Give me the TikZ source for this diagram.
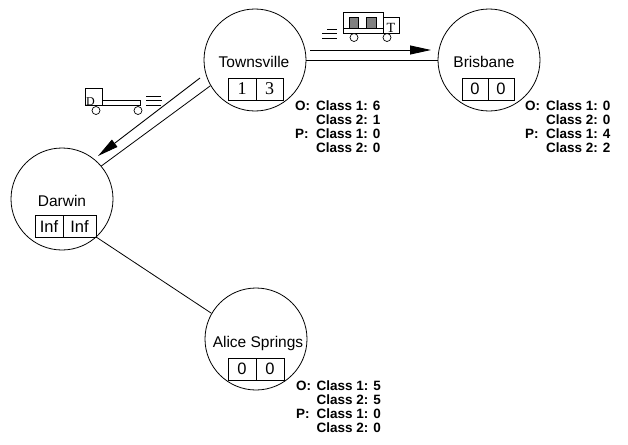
\documentclass[tikz,border=0pt]{standalone}
\usepackage{fontspec}
\setmainfont{Liberation Serif}
\setsansfont{Liberation Sans}
\usetikzlibrary{arrows.meta,calc}

\tikzset{
  city/.style={circle, draw, line width=0.8pt, minimum size=102pt, inner sep=0pt},
  cityname/.style={anchor=base, inner sep=0pt, font=\sffamily\fontsize{15.5}{15.5}\selectfont},
  cell/.style={draw, line width=0.8pt, minimum height=22pt, inner sep=0pt,
               font=\sffamily\fontsize{16.5}{16.5}\selectfont},
  serifcell/.style={cell, font=\rmfamily\fontsize{18}{18}\selectfont},
  stat/.style={anchor=base west, inner sep=0pt, font=\sffamily\bfseries\fontsize{13.5}{14}\selectfont},
  link/.style={line width=0.8pt},
  flow/.style={line width=0.9pt, -{Triangle[length=21pt,width=9pt]}},
  truckline/.style={line width=0.7pt},
  cargo/.style={truckline, fill=gray},
  plate/.style={inner sep=0pt, font=\rmfamily\fontsize{13}{13}\selectfont},
}

\begin{document}
\begin{tikzpicture}[x=1pt,y=-1pt]
  \useasboundingbox (0,0) rectangle (628,444);

  % cities
  \node[city] (T) at (255,60) {};
  \node[city] (B) at (489,60) {};
  \node[city] (D) at (62,199) {};
  \node[city] (A) at (256,339) {};

  \node[cityname] (Tn) at (254,67) {Townsville};
  \node[cityname] (Bn) at (484,67) {Brisbane};
  \node[cityname] (Dn) at (62,206) {Darwin};
  \node[cityname] (An) at (258,347) {Alice Springs};

  % two-slot counters below each name
  \node[serifcell, minimum width=28pt] (Tc1) at (242,89) {1};
  \node[serifcell, minimum width=27pt] (Tc2) at (269.5,89) {3};
  \node[cell, minimum width=26pt] (Bc1) at (475,89) {0};
  \node[cell, minimum width=26pt] (Bc2) at (501,89) {0};
  \node[cell, minimum width=28pt] (Dc1) at (49,226.5) {Inf};
  \node[cell, minimum width=33pt] (Dc2) at (79.5,226.5) {Inf};
  \node[cell, minimum width=28pt] (Ac1) at (242,369) {0};
  \node[cell, minimum width=28pt] (Ac2) at (270,369) {0};

  % roads
  \draw[link] (T.0) -- (B.180);
  \draw[link] (T.210) -- (D.40);
  \draw[link] (D.-48) -- (A.150);

  % shipments in transit
  \coordinate (tbS) at (310,50);
  \coordinate (tbE) at (431,50);
  \coordinate (tdS) at (200,78);
  \coordinate (tdE) at (98,156);
  \draw[flow] (tbS) -- (tbE);
  \draw[flow] (tdS) -- (tdE);

  % truck heading east, loaded
  \draw[truckline] (343,12) rectangle (383,33);
  \draw[truckline] (343,28) -- (383,28);
  \draw[cargo] (349,17) rectangle (358,28);
  \draw[cargo] (366,17) rectangle (376,28);
  \draw[truckline] (383,17) rectangle (399,33);
  \node[plate, anchor=base, font=\rmfamily\fontsize{14}{14}\selectfont] (truckT) at (391,33) {T};
  \draw[truckline, fill=white] (354,37.5) circle[radius=4pt];
  \draw[truckline, fill=white] (387,37.5) circle[radius=4pt];
  \draw[truckline] (327,29) -- (337,29);
  \draw[truckline] (322,33.5) -- (337,33.5);
  \draw[truckline] (322,38) -- (337,38);

  % truck heading west, empty
  \draw[truckline] (85,88) rectangle (102,105);
  \draw[truckline] (102,100) rectangle (140,105);
  \node[plate, anchor=base west, font=\rmfamily\fontsize{12}{12}\selectfont] (truckD) at (86,105) {D};
  \draw[truckline, fill=white] (96,110.5) circle[radius=4pt];
  \draw[truckline, fill=white] (138,110.5) circle[radius=4pt];
  \draw[truckline] (146,96) -- (161,96);
  \draw[truckline] (146,100.5) -- (162,100.5);
  \draw[truckline] (146,105) -- (161,105);

  % stock figures
  \node[stat] (TO)  at (295,110.5) {O:};
  \node[stat] (TO1) at (316,110.5) {Class 1: 6};
  \node[stat] (TO2) at (316,124.5) {Class 2: 1};
  \node[stat] (TP)  at (295,138.5) {P:};
  \node[stat] (TP1) at (316,138.5) {Class 1: 0};
  \node[stat] (TP2) at (316,152.5) {Class 2: 0};

  \node[stat] (BO)  at (525,110.5) {O:};
  \node[stat] (BO1) at (546,110.5) {Class 1: 0};
  \node[stat] (BO2) at (546,124.5) {Class 2: 0};
  \node[stat] (BP)  at (525,138.5) {P:};
  \node[stat] (BP1) at (546,138.5) {Class 1: 4};
  \node[stat] (BP2) at (546,152.5) {Class 2: 2};

  \node[stat] (AO)  at (296,390.5) {O:};
  \node[stat] (AO1) at (316.5,390.5) {Class 1: 5};
  \node[stat] (AO2) at (316.5,404.5) {Class 2: 5};
  \node[stat] (AP)  at (296,418.5) {P:};
  \node[stat] (AP1) at (316.5,418.5) {Class 1: 0};
  \node[stat] (AP2) at (316.5,432.5) {Class 2: 0};
\end{tikzpicture}
\end{document}
